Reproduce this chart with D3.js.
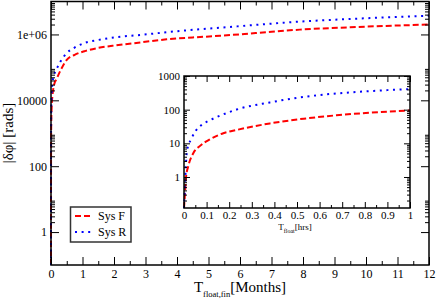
<!DOCTYPE html>
<html>
<head>
<meta charset="utf-8">
<script src="https://cdn.jsdelivr.net/npm/d3@7"></script>
<style>
  body { margin: 0; background: #fff; }
  text { font-family: "Liberation Serif", "Times New Roman", serif; fill: #000; }
</style>
</head>
<body>
<svg id="plot"></svg>
<script>
// main panel: months
var months = [0, 0.0005, 0.0014, 0.005, 0.02, 0.05, 0.1, 0.18, 0.3, 0.5, 0.75, 1.06, 1.5, 2.08, 2.83, 3.67, 4.5, 5.37, 6.5, 7.9, 9.5, 12];
var sysF = [0.1, 10, 100, 1200, 6000, 15000, 30000, 45000, 80000, 170000, 240000, 310000, 390000, 470000, 570000, 710000, 810000, 910000, 1100000, 1400000, 1650000, 2000000];
var sysR = [0.1, 100, 500, 4000, 15000, 35000, 60000, 90000, 150000, 270000, 400000, 550000, 680000, 830000, 960000, 1170000, 1380000, 1600000, 1950000, 2460000, 2950000, 3700000];

// inset: hours
var hrsF = [0, 0.004, 0.009, 0.019, 0.041, 0.071, 0.115, 0.174, 0.233, 0.38, 0.53, 0.675, 0.82, 1.0];
var insetF = [0.12, 0.3, 1, 2.1, 5.1, 8.4, 13.2, 20, 25, 39, 54, 68, 81, 95];
var hrsR = [0, 0.004, 0.008, 0.012, 0.02, 0.03, 0.049, 0.077, 0.107, 0.159, 0.233, 0.38, 0.53, 0.675, 0.82, 1.0];
var insetR = [0.12, 0.5, 2, 5.1, 9, 12.6, 22, 35, 46, 66, 101, 164, 240, 303, 355, 410];

var mainYTicks = [1, 100, 10000, 1e6];
var mainYLabels = ["1", "100", "10000", "1e+06"];
var insetYTicks = [1, 10, 100, 1000];

var width = 436, height = 299;
var svg = d3.select("#plot").attr("width", width).attr("height", height);

var x = d3.scaleLinear().domain([0, 12]).range([51, 429]);
var y = d3.scaleLog().domain([0.1, 1e7]).range([265, 1.5]);

var xi = d3.scaleLinear().domain([0, 1]).range([184, 410]);
var yi = d3.scaleLog().domain([0.12, 1000]).range([208, 76]);

// minor ticks on main log axis: 2..9 x 10^(2j)
var mainYMinor = [];
[0, 2, 4, 6].forEach(function(e) {
  for (var m = 2; m <= 9; m++) mainYMinor.push(m * Math.pow(10, e));
});
var insetYMinor = [];
[-1, 0, 1, 2].forEach(function(e) {
  for (var m = 2; m <= 9; m++) {
    var v = m * Math.pow(10, e);
    if (v >= 0.12 && v <= 1000) insetYMinor.push(v);
  }
});

var xMajor = d3.range(0, 13, 1), xMinor = d3.range(0.5, 12, 1);
var xiMajor = d3.range(0, 11).map(d => d / 10), xiMinor = d3.range(0, 10).map(d => d / 10 + 0.05);

function tidy(g, size) {
  g.select(".domain").remove();
  g.selectAll(".tick line").attr("stroke", "#000").attr("stroke-width", 1);
  g.selectAll(".tick text").attr("font-size", size).attr("fill", "#000");
}

function drawAxes(xs, ys, xMaj, xMin, yMaj, yMin, yFmt, xFmt, major, minor, fsize, pad) {
  var r = xs.range(), t = ys.range();
  var bottom = t[0], top = t[1], left = r[0], right = r[1];
  svg.append("g").attr("transform", "translate(0," + bottom + ")")
    .call(d3.axisBottom(xs).tickValues(xMaj).tickFormat(xFmt).tickSize(-major).tickPadding(pad))
    .call(g => tidy(g, fsize));
  svg.append("g").attr("transform", "translate(0," + bottom + ")")
    .call(d3.axisBottom(xs).tickValues(xMin).tickFormat("").tickSize(-minor))
    .call(g => tidy(g, fsize));
  svg.append("g").attr("transform", "translate(0," + top + ")")
    .call(d3.axisTop(xs).tickValues(xMaj).tickFormat("").tickSize(-major))
    .call(g => tidy(g, fsize));
  svg.append("g").attr("transform", "translate(0," + top + ")")
    .call(d3.axisTop(xs).tickValues(xMin).tickFormat("").tickSize(-minor))
    .call(g => tidy(g, fsize));
  svg.append("g").attr("transform", "translate(" + left + ",0)")
    .call(d3.axisLeft(ys).tickValues(yMaj).tickFormat(yFmt).tickSize(-major).tickPadding(4))
    .call(g => tidy(g, fsize));
  svg.append("g").attr("transform", "translate(" + left + ",0)")
    .call(d3.axisLeft(ys).tickValues(yMin).tickFormat("").tickSize(-minor))
    .call(g => tidy(g, fsize));
  svg.append("g").attr("transform", "translate(" + right + ",0)")
    .call(d3.axisRight(ys).tickValues(yMaj).tickFormat("").tickSize(-major))
    .call(g => tidy(g, fsize));
  svg.append("g").attr("transform", "translate(" + right + ",0)")
    .call(d3.axisRight(ys).tickValues(yMin).tickFormat("").tickSize(-minor))
    .call(g => tidy(g, fsize));
}

function drawCurves(xs, ys, tF, vF, tR, vR) {
  var line = d3.line().curve(d3.curveMonotoneX);
  svg.append("path")
    .datum(tF.map((d, i) => [xs(d), ys(vF[i])]))
    .attr("fill", "none").attr("stroke", "#ff0000").attr("stroke-width", 2)
    .attr("stroke-dasharray", "6,3").attr("d", line);
  svg.append("path")
    .datum(tR.map((d, i) => [xs(d), ys(vR[i])]))
    .attr("fill", "none").attr("stroke", "#0000ff").attr("stroke-width", 2)
    .attr("stroke-dasharray", "2,4.6").attr("d", line);
}

// main panel
drawCurves(x, y, months, sysF, months, sysR);
drawAxes(x, y, xMajor, xMinor, mainYTicks, mainYMinor,
  (d, i) => mainYLabels[i], d3.format("d"), 8, 4, "12px", 4);
svg.append("rect").attr("x", 51).attr("y", 1.5).attr("width", 378).attr("height", 263.5)
  .attr("fill", "none").attr("stroke", "#000").attr("stroke-width", 1.5);

// inset panel
svg.append("rect").attr("x", 184).attr("y", 76).attr("width", 226).attr("height", 132)
  .attr("fill", "#fff");
drawCurves(xi, yi, hrsF, insetF, hrsR, insetR);
drawAxes(xi, yi, xiMajor, xiMinor, insetYTicks, insetYMinor,
  d3.format("d"), d => d === 0 || d === 1 ? d3.format("d")(d) : d3.format(".1f")(d), 6, 3, "11px", 3);
svg.append("rect").attr("x", 184).attr("y", 76).attr("width", 226).attr("height", 132)
  .attr("fill", "none").attr("stroke", "#000").attr("stroke-width", 1.5);

// axis titles
var xt = svg.append("text").attr("x", 240).attr("y", 292).attr("text-anchor", "middle").attr("font-size", "15px");
xt.append("tspan").text("T");
xt.append("tspan").attr("font-size", "8.5px").attr("dy", 5).text("float,fin");
xt.append("tspan").attr("dy", -5).text("[Months]");

svg.append("text")
  .attr("transform", "translate(13,133) rotate(-90)")
  .attr("text-anchor", "middle").attr("font-size", "15px")
  .text("|δφ| [rads]");

var it = svg.append("text").attr("x", 295).attr("y", 230).attr("text-anchor", "middle").attr("font-size", "9px");
it.append("tspan").text("T");
it.append("tspan").attr("font-size", "6px").attr("dy", 3).text("float");
it.append("tspan").attr("dy", -3).text("[hrs]");

// legend
var legend = svg.append("g");
legend.append("rect").attr("x", 70.5).attr("y", 207).attr("width", 60.5).attr("height", 35)
  .attr("fill", "#fff").attr("stroke", "#333").attr("stroke-width", 1.5);
[["Sys F", "#ff0000", "6,3"], ["Sys R", "#0000ff", "2,4.6"]].forEach(function(e, i) {
  var yy = 216 + i * 16;
  legend.append("line").attr("x1", 75).attr("x2", 92).attr("y1", yy).attr("y2", yy)
    .attr("stroke", e[1]).attr("stroke-width", 2).attr("stroke-dasharray", e[2]);
  legend.append("text").attr("x", 98).attr("y", yy + 4).attr("font-size", "12px").text(e[0]);
});
</script>
</body>
</html>
